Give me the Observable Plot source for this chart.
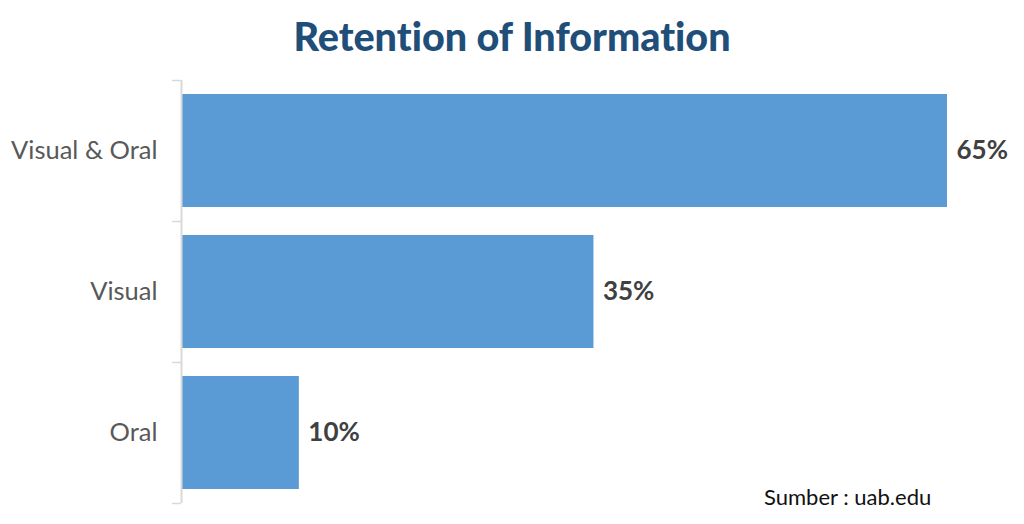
<!DOCTYPE html>
<html>
<head>
<meta charset="utf-8">
<script src="https://cdn.jsdelivr.net/npm/d3@7"></script>
<script src="https://cdn.jsdelivr.net/npm/@observablehq/plot@0.6"></script>
<style>
  html, body { margin: 0; padding: 0; background: #fff; }
  #wrap { position: relative; width: 1024px; height: 524px; overflow: hidden;
    font-variant-ligatures: none; font-feature-settings: "liga" 0; }
  #title { position: absolute; left: 0; top: 11px; width: 1024px; text-align: center;
    font-family: Lato, sans-serif; font-weight: 900; font-size: 39.5px; color: #1f4e79; line-height: 50px; }
  #source { position: absolute; left: 764px; top: 483px; font-family: Lato, sans-serif;
    font-size: 22px; color: #111; }
  #chart { position: absolute; left: 0; top: 0; }
  #chart svg text { font-variant-ligatures: none; }
</style>
</head>
<body>
<div id="wrap">
  <div id="chart"></div>
  <div id="title">Retention of Information</div>
  <div id="source">Sumber : uab.edu</div>
</div>
<script>
const categories = ["Visual & Oral", "Visual", "Oral"];
const values = [65, 35, 10];

const data = categories.map((c, i) => ({category: c, value: values[i]}));

const W = 1024, H = 524, MT = 80, MB = 21;
const step = (H - MT - MB) / categories.length;

const plot = Plot.plot({
  width: W,
  height: H,
  marginTop: MT,
  marginBottom: MB,
  marginLeft: 181,
  marginRight: 77,
  style: {fontFamily: "Lato, sans-serif", background: "transparent"},
  x: {domain: [0, 65], axis: null},
  y: {domain: categories, paddingInner: 0.2, paddingOuter: 0.1, label: null},
  marks: [
    Plot.barX(data, {x: "value", y: "category", fill: "#5b9bd5", insetLeft: 1}),
    Plot.ruleX([0], {stroke: "#d9d9d9", strokeWidth: 2}),
    Plot.axisY({tickSize: 0, tickPadding: 24, fontSize: 25.5, fill: "#595959", label: null}),
    Plot.axisY({tickSize: 9, tickFormat: () => "", stroke: "#d9d9d9", strokeWidth: 1.5, dy: -step / 2, label: null}),
    Plot.axisY({ticks: [categories[categories.length - 1]], tickSize: 9, tickFormat: () => "", stroke: "#d9d9d9", strokeWidth: 1.5, dy: step / 2, label: null}),
    Plot.text(data, {x: "value", y: "category", text: d => d.value + "%", textAnchor: "start", dx: 9,
      fontSize: 26, fontWeight: "bold", fill: "#404040"})
  ]
});
document.getElementById("chart").appendChild(plot);
</script>
</body>
</html>
